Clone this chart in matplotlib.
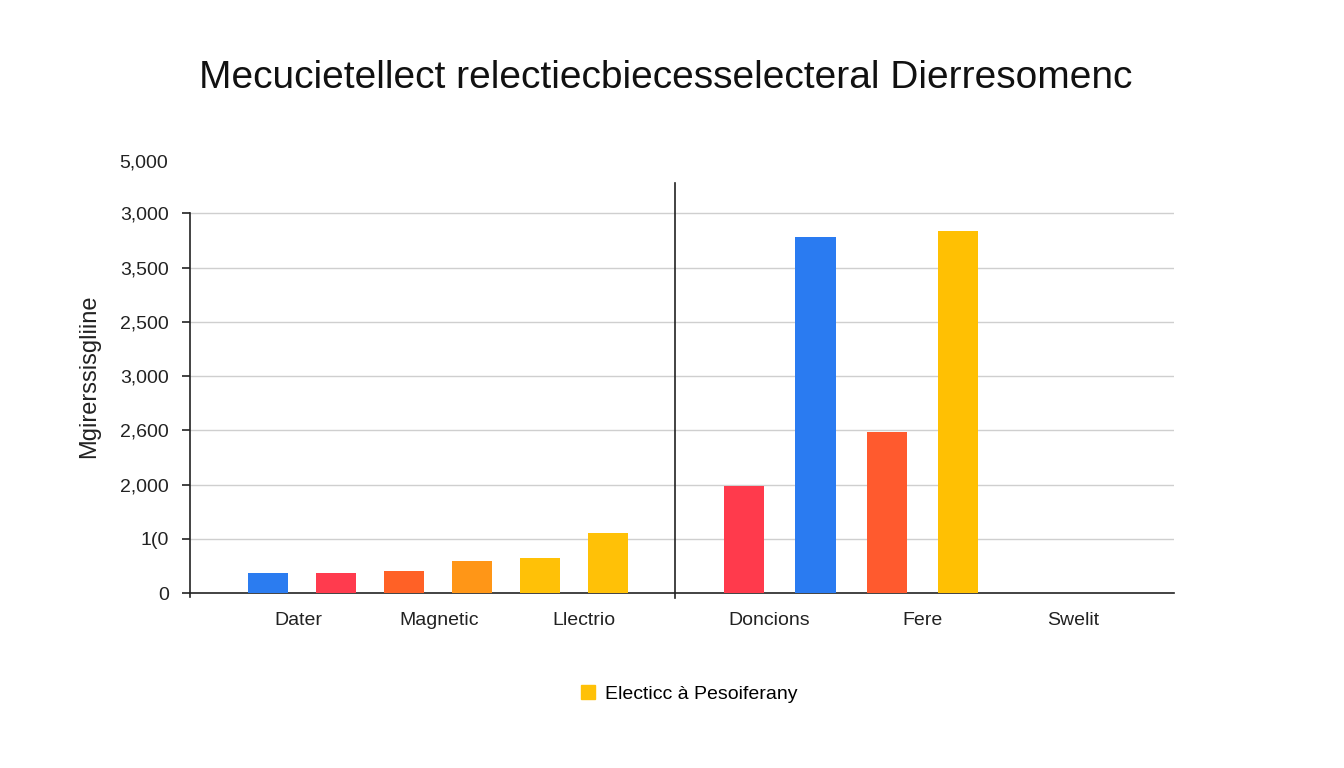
# plot.py

import matplotlib.pyplot as plt
from matplotlib.patches import Patch

plt.rcParams['font.family'] = ['Liberation Sans', 'DejaVu Sans']

# data
left_values = [180, 180, 200, 295, 325, 555]
left_colors = ['#2B7CF0', '#FF3B4E', '#FF6126', '#FF9617', '#FFC107', '#FFC107']
right_values = [990, 3285, 1480, 3340]
right_colors = ['#FF3A4C', '#2A7BF1', '#FF5A2E', '#FFC003']

categories = ['Dater', 'Magnetic', 'Llectrio', 'Doncions', 'Fere', 'Swelit']
category_pos = [0.45, 2.52, 4.65, 7.37, 9.62, 11.84]

ytick_vals = [0, 500, 1000, 1500, 2000, 2500, 3000, 3500]
ytick_labels = ['0', '1(0', '2,000', '2,600', '3,000', '2,500', '3,500', '3,000']
top_label = '5,000'

title = 'Mecucietellect relectiecbiecesselecteral Dierresomenc'
ylabel = 'Mgirerssisgliine'
legend_label = 'Electicc à Pesoiferany'

fig = plt.figure(figsize=(13.44, 7.68), dpi=100)
ax = fig.add_axes([190/1344, 1 - 593/768, 984/1344, (593 - 183)/768])

# left group: step 1, right group: step 1.05 starting at 7
left_x = [i for i in range(len(left_values))]
right_x = [7 + 1.05*i for i in range(len(right_values))]
ax.bar(left_x, left_values, width=0.58, color=left_colors, zorder=3)
ax.bar(right_x, right_values, width=0.59, color=right_colors, zorder=3)

ax.set_xlim(-1.147, 13.32)
ax.set_ylim(0, 3780)

for v in ytick_vals[1:]:
    ax.axhline(v, color='#cfcfcf', linewidth=1, zorder=1)

# separator line
ax.plot([5.985, 5.985], [-50, 3780], color='#222222', linewidth=1.2, clip_on=False, zorder=4)

for s in ['top', 'right']:
    ax.spines[s].set_visible(False)
ax.spines['left'].set_bounds(-40, 3500)
ax.spines['left'].set_color('#222222')
ax.spines['bottom'].set_color('#222222')
ax.spines['left'].set_linewidth(1.2)
ax.spines['bottom'].set_linewidth(1.2)

ax.set_yticks(ytick_vals)
ax.set_yticklabels(ytick_labels, fontsize=14, color='#222222')
ax.tick_params(axis='y', length=6, width=1.2, pad=9, color='#222222')
ax.set_xticks(category_pos)
ax.set_xticklabels(categories, fontsize=14, color='#222222')
ax.tick_params(axis='x', length=0, pad=14)

ax.text(-0.0225, 3960, top_label, transform=ax.get_yaxis_transform(),
        ha='right', va='center', fontsize=14, color='#222222', clip_on=False)

fig.text(89/1344, 1 - 376/768, ylabel, rotation=90, ha='center', va='center',
         fontsize=17, color='#222222')
fig.text(666/1344, 1 - 78/768, title, ha='center', va='center',
         fontsize=28, color='#111111')

fig.legend(handles=[Patch(color='#FFC107')], labels=[legend_label],
           loc='center', bbox_to_anchor=(689/1344, 1 - 694/768), frameon=False,
           fontsize=14, handlelength=0.75, handleheight=0.75, handletextpad=0.5)

plt.savefig('out.png', dpi=100)
